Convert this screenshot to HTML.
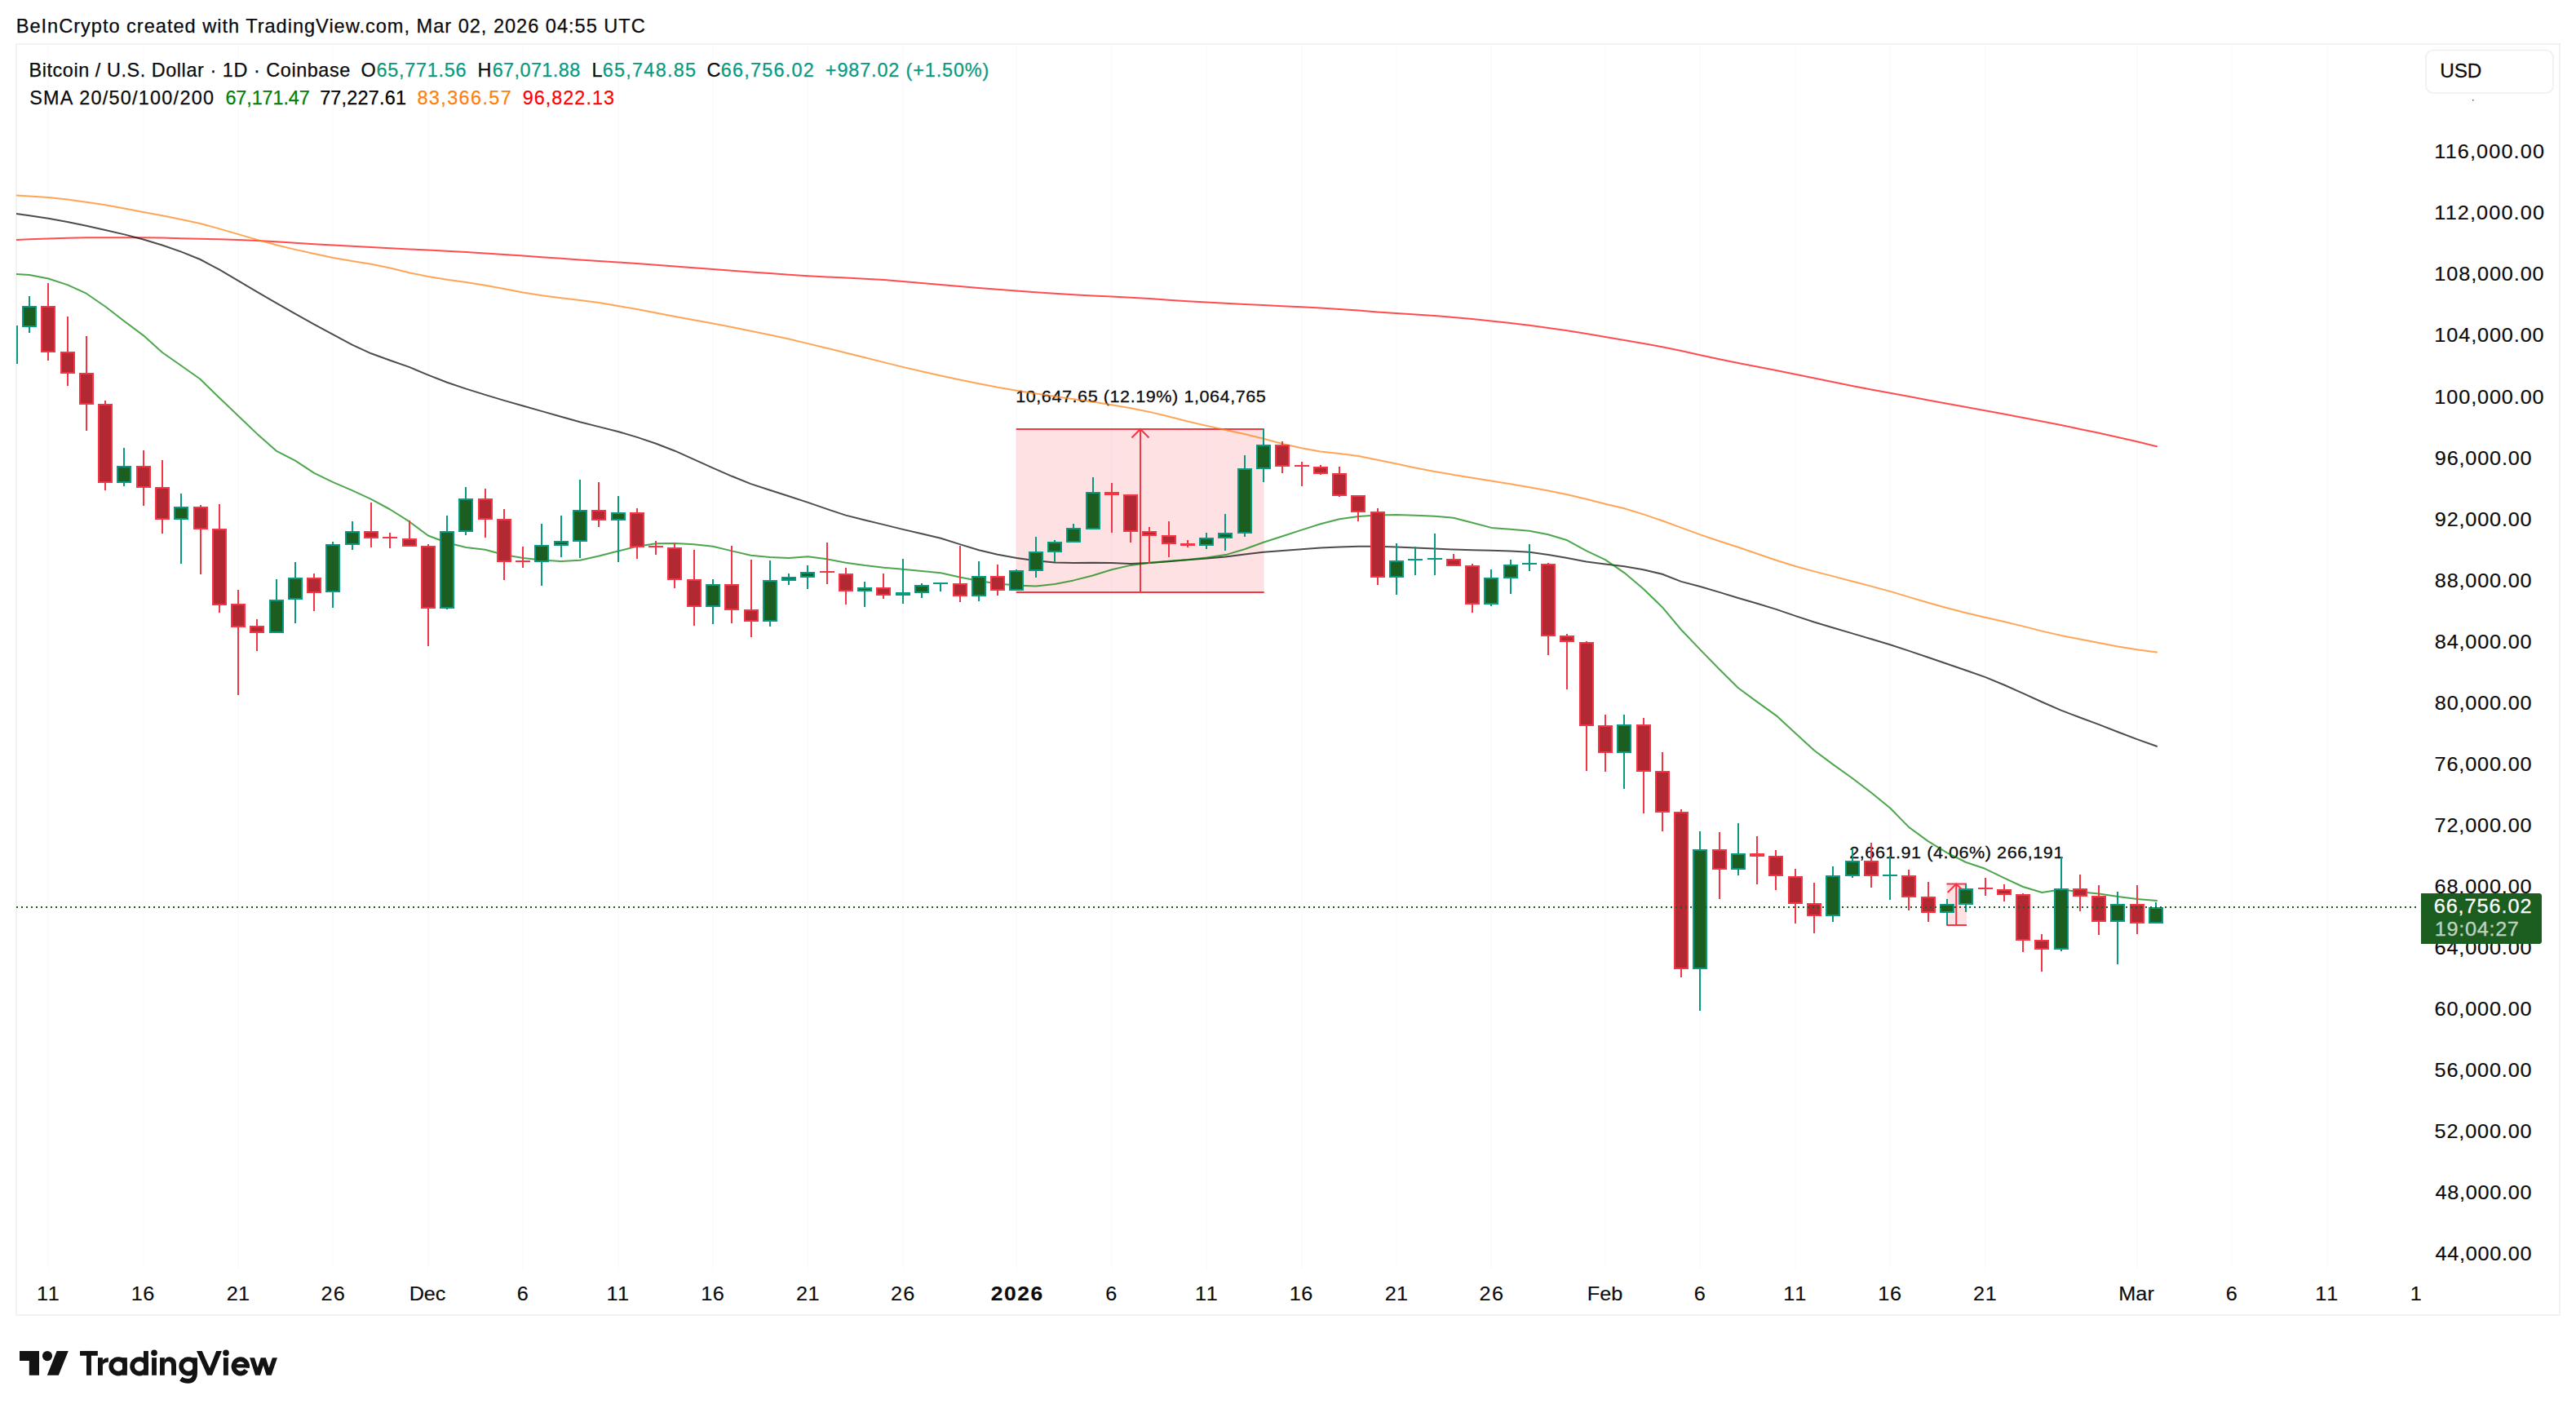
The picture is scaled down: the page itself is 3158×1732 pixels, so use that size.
<!DOCTYPE html>
<html><head><meta charset="utf-8"><title>BTCUSD chart</title>
<style>html,body{margin:0;padding:0;background:#fff}svg{display:block}text{font-family:"Liberation Sans",sans-serif;white-space:pre}</style></head>
<body>
<svg width="3158" height="1732" viewBox="0 0 3158 1732" font-family='"Liberation Sans", sans-serif'>
<rect width="3158" height="1732" fill="#fff"/>
<rect x="20" y="54" width="3118" height="1558" fill="none" stroke="#f2f2f2" stroke-width="2"/>
<g stroke="#fcfcfd" stroke-width="2"><line x1="59" y1="54" x2="59" y2="1556"/><line x1="176" y1="54" x2="176" y2="1556"/><line x1="292" y1="54" x2="292" y2="1556"/><line x1="408" y1="54" x2="408" y2="1556"/><line x1="525" y1="54" x2="525" y2="1556"/><line x1="641" y1="54" x2="641" y2="1556"/><line x1="758" y1="54" x2="758" y2="1556"/><line x1="874" y1="54" x2="874" y2="1556"/><line x1="990" y1="54" x2="990" y2="1556"/><line x1="1107" y1="54" x2="1107" y2="1556"/><line x1="1246" y1="54" x2="1246" y2="1556"/><line x1="1363" y1="54" x2="1363" y2="1556"/><line x1="1479" y1="54" x2="1479" y2="1556"/><line x1="1596" y1="54" x2="1596" y2="1556"/><line x1="1712" y1="54" x2="1712" y2="1556"/><line x1="1828" y1="54" x2="1828" y2="1556"/><line x1="1968" y1="54" x2="1968" y2="1556"/><line x1="2084" y1="54" x2="2084" y2="1556"/><line x1="2201" y1="54" x2="2201" y2="1556"/><line x1="2317" y1="54" x2="2317" y2="1556"/><line x1="2434" y1="54" x2="2434" y2="1556"/><line x1="2620" y1="54" x2="2620" y2="1556"/><line x1="2736" y1="54" x2="2736" y2="1556"/><line x1="2853" y1="54" x2="2853" y2="1556"/></g>
<clipPath id="pane"><rect x="20" y="55" width="2942" height="1501"/></clipPath>
<g clip-path="url(#pane)">
<rect x="1245.7" y="526" width="304" height="200" fill="#f23645" fill-opacity="0.15"/><g stroke="#f23645" stroke-width="2" fill="none"><line x1="1245.7" y1="526" x2="1549.7" y2="526"/><line x1="1245.7" y1="726" x2="1549.7" y2="726"/><line x1="1398" y1="526" x2="1398" y2="726"/><polyline points="1387.5,536.5 1398,526 1408.5,536.5"/></g>
<rect x="2386.4" y="1083.5" width="24.6" height="50.5" fill="#f23645" fill-opacity="0.15"/><g stroke="#f23645" stroke-width="2" fill="none"><line x1="2386.4" y1="1083.5" x2="2411" y2="1083.5"/><line x1="2386.4" y1="1134" x2="2411" y2="1134"/><line x1="2398.2" y1="1083.5" x2="2398.2" y2="1134"/><polyline points="2387.7,1094 2398.2,1083.5 2408.7,1094"/></g>
<text transform="translate(1245.14 493.20) scale(1.08 1)" font-size="20" fill="#0a0a0a" letter-spacing="0.520" stroke="#0a0a0a" stroke-width="0.25">10,647.65 (12.19%) 1,064,765</text>
<text transform="translate(2267.24 1051.50) scale(1.08 1)" font-size="20" fill="#0a0a0a" letter-spacing="0.506" stroke="#0a0a0a" stroke-width="0.25">2,661.91 (4.06%) 266,191</text>
<path d="M20,293.9 L36,293.2 L59.3,292.4 L82.6,291.7 L105.8,291.3 L129.1,291.2 L152.4,291.2 L175.7,291.3 L198.9,291.6 L222.2,292.2 L245.5,292.7 L268.8,293.3 L292.1,294 L315.3,294.9 L338.6,296.2 L361.9,297.7 L385.2,299.2 L408.4,300.5 L431.7,301.8 L455,303 L478.3,304.2 L501.6,305.4 L524.8,306.5 L548.1,307.8 L571.4,309.1 L594.7,310.5 L617.9,312 L641.2,313.6 L664.5,315.2 L687.8,316.8 L711,318.4 L734.3,319.9 L757.6,321.4 L780.9,323 L804.2,324.7 L827.4,326.5 L850.7,328.3 L874,330 L897.3,331.8 L920.5,333.5 L943.8,335.1 L967.1,336.7 L990.4,338.2 L1013.6,339.5 L1036.9,340.6 L1060.2,341.7 L1083.5,343.1 L1106.8,344.9 L1130,347.1 L1153.3,349.1 L1176.6,351 L1199.9,352.9 L1223.1,354.8 L1246.4,356.5 L1269.7,358.2 L1293,359.8 L1316.2,361.2 L1339.5,362.4 L1362.8,363.5 L1386.1,364.7 L1409.4,366.1 L1432.6,367.8 L1455.9,369.3 L1479.2,370.6 L1502.5,371.8 L1525.7,372.9 L1549,374.1 L1572.3,375.2 L1595.6,376.3 L1618.8,377.5 L1642.1,379 L1665.4,380.6 L1688.7,382.4 L1712,384 L1735.2,385.5 L1758.5,387.1 L1781.8,389 L1805.1,391.1 L1828.3,393.4 L1851.6,396 L1874.9,398.8 L1898.2,401.9 L1921.4,405.2 L1944.7,409 L1968,413.1 L1991.3,417 L2014.6,421 L2037.8,425.3 L2061.1,430.1 L2084.4,435.2 L2107.7,440.3 L2130.9,445.1 L2154.2,449.6 L2177.5,454.1 L2200.8,458.7 L2224,463.5 L2247.3,468.3 L2270.6,473 L2293.9,477.5 L2317.2,481.8 L2340.4,486.1 L2363.7,490.4 L2387,494.7 L2410.3,499 L2433.5,503.3 L2456.8,507.6 L2480.1,512 L2503.4,516.4 L2526.6,521.1 L2549.9,525.9 L2573.2,530.8 L2596.5,536 L2619.8,541.3 L2644,547.2" fill="none" stroke="#ff0000" stroke-opacity="0.7" stroke-width="2" stroke-linejoin="round" stroke-linecap="round"/>
<path d="M20,239.6 L36,240.4 L59.3,242 L82.6,244.5 L105.8,247.7 L129.1,251.3 L152.4,255.6 L175.7,260 L198.9,264.3 L222.2,268.9 L245.5,274 L268.8,280.4 L292.1,287.1 L315.3,293.9 L338.6,300.2 L361.9,305.9 L385.2,311.1 L408.4,315.9 L431.7,319.9 L455,323.8 L478.3,328.5 L501.6,334.2 L524.8,339.1 L548.1,342.7 L571.4,345.9 L594.7,349.7 L617.9,354 L641.2,358.4 L664.5,362.2 L687.8,365.2 L711,368 L734.3,371.1 L757.6,374.9 L780.9,379.1 L804.2,383.6 L827.4,387.9 L850.7,392.2 L874,396.6 L897.3,401.1 L920.5,405.7 L943.8,410.5 L967.1,415.6 L990.4,421.1 L1013.6,426.7 L1036.9,432.5 L1060.2,438.3 L1083.5,444.1 L1106.8,449.9 L1130,455.3 L1153.3,460.5 L1176.6,465.4 L1199.9,470.2 L1223.1,474.8 L1246.4,478.8 L1269.7,482.4 L1293,485.9 L1316.2,489.2 L1339.5,492.5 L1362.8,496.2 L1386.1,500.3 L1409.4,504.9 L1432.6,510.5 L1455.9,516.5 L1479.2,521.9 L1502.5,526.9 L1525.7,532.1 L1549,537.8 L1572.3,544 L1595.6,549.3 L1618.8,553.5 L1642.1,556.1 L1665.4,559.1 L1688.7,563.8 L1712,568.6 L1735.2,573.4 L1758.5,577.9 L1781.8,581.9 L1805.1,585.7 L1828.3,589.5 L1851.6,593.3 L1874.9,597.3 L1898.2,601.5 L1921.4,606.2 L1944.7,611.8 L1968,617.7 L1991.3,623.3 L2014.6,630.4 L2037.8,638.3 L2061.1,646.9 L2084.4,655.4 L2107.7,663.2 L2130.9,670.8 L2154.2,678.7 L2177.5,686.7 L2200.8,694 L2224,700.4 L2247.3,706.4 L2270.6,712.5 L2293.9,718.6 L2317.2,724.9 L2340.4,731.9 L2363.7,738.8 L2387,745.2 L2410.3,751.2 L2433.5,756.8 L2456.8,762.1 L2480.1,767.6 L2503.4,773.6 L2526.6,778.9 L2549.9,783.6 L2573.2,788 L2596.5,792.4 L2619.8,796.3 L2644,799.6" fill="none" stroke="#ff7f0e" stroke-opacity="0.7" stroke-width="2" stroke-linejoin="round" stroke-linecap="round"/>
<path d="M20,262.1 L36,264.2 L59.3,267.8 L82.6,271.9 L105.8,276.7 L129.1,282 L152.4,287.4 L175.7,293.5 L198.9,300.5 L222.2,308.6 L245.5,318 L268.8,330.4 L292.1,344.2 L315.3,357.8 L338.6,371.3 L361.9,384.6 L385.2,397.6 L408.4,410.2 L431.7,422.6 L455,433.3 L478.3,441.7 L501.6,449.9 L524.8,459.6 L548.1,468.8 L571.4,476.6 L594.7,483.9 L617.9,490.9 L641.2,497.5 L664.5,504.1 L687.8,510.7 L711,517.2 L734.3,523.1 L757.6,529 L780.9,535.9 L804.2,543.7 L827.4,552.7 L850.7,563.1 L874,573.7 L897.3,583.8 L920.5,593.1 L943.8,600.8 L967.1,608.2 L990.4,615.9 L1013.6,623.9 L1036.9,631.6 L1060.2,637.5 L1083.5,643.1 L1106.8,648.9 L1130,654.3 L1153.3,659.7 L1176.6,667.1 L1199.9,674.2 L1223.1,679.7 L1246.4,684 L1269.7,687.2 L1293,689.4 L1316.2,690.1 L1339.5,689.8 L1362.8,690.1 L1386.1,690.9 L1409.4,690 L1432.6,688.2 L1455.9,686.3 L1479.2,684.5 L1502.5,682.6 L1525.7,679.6 L1549,676.8 L1572.3,674.9 L1595.6,673.2 L1618.8,671.6 L1642.1,670.5 L1665.4,669.8 L1688.7,669.7 L1712,670.5 L1735.2,671.4 L1758.5,672.6 L1781.8,673.6 L1805.1,674.2 L1828.3,674.8 L1851.6,675.6 L1874.9,676.7 L1898.2,679.9 L1921.4,684 L1944.7,688.4 L1968,691.6 L1991.3,694.3 L2014.6,698.2 L2037.8,703.8 L2061.1,712.9 L2084.4,719 L2107.7,725.9 L2130.9,733 L2154.2,739.8 L2177.5,746.9 L2200.8,754.9 L2224,762.5 L2247.3,769.5 L2270.6,776.4 L2293.9,783.3 L2317.2,790.3 L2340.4,797.9 L2363.7,805.8 L2387,813.7 L2410.3,821.7 L2433.5,829.9 L2456.8,839.5 L2480.1,849.8 L2503.4,860.5 L2526.6,870.6 L2549.9,879.5 L2573.2,888.1 L2596.5,897.2 L2619.8,906.1 L2644,914.8" fill="none" stroke="#000000" stroke-opacity="0.7" stroke-width="2" stroke-linejoin="round" stroke-linecap="round"/>
<path d="M20,335.9 L36,337.1 L59.3,341.5 L82.6,349.1 L105.8,359.7 L129.1,375.7 L152.4,393.7 L175.7,411.1 L198.9,432 L222.2,448.3 L245.5,464.8 L268.8,487.5 L292.1,509.7 L315.3,531.9 L338.6,552.6 L361.9,564.6 L385.2,579.9 L408.4,591.1 L431.7,601.2 L455,611.8 L478.3,624.5 L501.6,639.2 L524.8,656.5 L548.1,665.3 L571.4,671 L594.7,673.7 L617.9,680 L641.2,683.9 L664.5,686.4 L687.8,688 L711,686.7 L734.3,681.5 L757.6,675.5 L780.9,669.8 L804.2,666.3 L827.4,666 L850.7,667.3 L874,669.8 L897.3,675.4 L920.5,680.7 L943.8,683.1 L967.1,684.1 L990.4,682.3 L1013.6,685.3 L1036.9,689.8 L1060.2,693.1 L1083.5,695.8 L1106.8,697.8 L1130,699.9 L1153.3,702.3 L1176.6,707.5 L1199.9,712.1 L1223.1,715.4 L1246.4,717.4 L1269.7,718.5 L1293,716 L1316.2,711.4 L1339.5,705.5 L1362.8,698.3 L1386.1,692.9 L1409.4,689.8 L1432.6,687.7 L1455.9,686 L1479.2,683.6 L1502.5,680.1 L1525.7,673.2 L1549,664.8 L1572.3,657.2 L1595.6,649.6 L1618.8,642.2 L1642.1,636.3 L1665.4,633 L1688.7,631.5 L1712,631.1 L1735.2,631.7 L1758.5,632.8 L1781.8,634.7 L1805.1,640.7 L1828.3,646.9 L1851.6,648.7 L1874.9,650.7 L1898.2,655.2 L1921.4,662.3 L1944.7,675.1 L1968,686.1 L1991.3,702.1 L2014.6,721.7 L2037.8,744.2 L2061.1,772 L2084.4,796.4 L2107.7,820.3 L2130.9,843.2 L2154.2,860.4 L2177.5,877.1 L2200.8,898.4 L2224,919.7 L2247.3,937.1 L2270.6,953.7 L2293.9,971.5 L2317.2,990.5 L2340.4,1014.1 L2363.7,1031.1 L2387,1045.3 L2410.3,1057 L2433.5,1064.8 L2456.8,1076.1 L2480.1,1087 L2503.4,1094 L2526.6,1090.2 L2549.9,1093.3 L2573.2,1095.5 L2596.5,1098.9 L2619.8,1102 L2644,1104" fill="none" stroke="#008000" stroke-opacity="0.7" stroke-width="2" stroke-linejoin="round" stroke-linecap="round"/>
<rect x="20" y="399" width="2" height="47" fill="#089981"/><rect x="35" y="363" width="2" height="45" fill="#089981"/><rect x="28" y="376" width="16" height="24" fill="#1b5e20" stroke="#089981" stroke-width="2"/><rect x="58" y="347" width="2" height="95" fill="#f23645"/><rect x="51" y="376" width="16" height="55" fill="#b22833" stroke="#f23645" stroke-width="2"/><rect x="82" y="388" width="2" height="85" fill="#f23645"/><rect x="75" y="432" width="16" height="25" fill="#b22833" stroke="#f23645" stroke-width="2"/><rect x="105" y="412" width="2" height="116" fill="#f23645"/><rect x="98" y="458" width="16" height="37" fill="#b22833" stroke="#f23645" stroke-width="2"/><rect x="128" y="491" width="2" height="110" fill="#f23645"/><rect x="121" y="496" width="16" height="95" fill="#b22833" stroke="#f23645" stroke-width="2"/><rect x="151" y="549" width="2" height="47" fill="#089981"/><rect x="144" y="572" width="16" height="19" fill="#1b5e20" stroke="#089981" stroke-width="2"/><rect x="175" y="552" width="2" height="68" fill="#f23645"/><rect x="168" y="572" width="16" height="25" fill="#b22833" stroke="#f23645" stroke-width="2"/><rect x="198" y="564" width="2" height="90" fill="#f23645"/><rect x="191" y="598" width="16" height="38" fill="#b22833" stroke="#f23645" stroke-width="2"/><rect x="221" y="605" width="2" height="86" fill="#089981"/><rect x="214" y="622" width="16" height="14" fill="#1b5e20" stroke="#089981" stroke-width="2"/><rect x="245" y="619" width="2" height="85" fill="#f23645"/><rect x="238" y="622" width="16" height="26" fill="#b22833" stroke="#f23645" stroke-width="2"/><rect x="268" y="618" width="2" height="133" fill="#f23645"/><rect x="261" y="649" width="16" height="92" fill="#b22833" stroke="#f23645" stroke-width="2"/><rect x="291" y="723" width="2" height="129" fill="#f23645"/><rect x="284" y="741" width="16" height="27" fill="#b22833" stroke="#f23645" stroke-width="2"/><rect x="314" y="759" width="2" height="39" fill="#f23645"/><rect x="307" y="768" width="16" height="7" fill="#b22833" stroke="#f23645" stroke-width="2"/><rect x="338" y="710" width="2" height="66" fill="#089981"/><rect x="331" y="736" width="16" height="39" fill="#1b5e20" stroke="#089981" stroke-width="2"/><rect x="361" y="689" width="2" height="75" fill="#089981"/><rect x="354" y="709" width="16" height="25" fill="#1b5e20" stroke="#089981" stroke-width="2"/><rect x="384" y="703" width="2" height="46" fill="#f23645"/><rect x="377" y="709" width="16" height="17" fill="#b22833" stroke="#f23645" stroke-width="2"/><rect x="407" y="664" width="2" height="81" fill="#089981"/><rect x="400" y="668" width="16" height="57" fill="#1b5e20" stroke="#089981" stroke-width="2"/><rect x="431" y="639" width="2" height="35" fill="#089981"/><rect x="424" y="652" width="16" height="15" fill="#1b5e20" stroke="#089981" stroke-width="2"/><rect x="454" y="616" width="2" height="55" fill="#f23645"/><rect x="447" y="652" width="16" height="7" fill="#b22833" stroke="#f23645" stroke-width="2"/><rect x="477" y="653" width="2" height="19" fill="#f23645"/><rect x="469" y="658" width="18" height="2" fill="#f23645"/><rect x="501" y="638" width="2" height="32" fill="#f23645"/><rect x="494" y="661" width="16" height="8" fill="#b22833" stroke="#f23645" stroke-width="2"/><rect x="524" y="667" width="2" height="125" fill="#f23645"/><rect x="517" y="670" width="16" height="75" fill="#b22833" stroke="#f23645" stroke-width="2"/><rect x="547" y="632" width="2" height="115" fill="#089981"/><rect x="540" y="652" width="16" height="93" fill="#1b5e20" stroke="#089981" stroke-width="2"/><rect x="570" y="597" width="2" height="59" fill="#089981"/><rect x="563" y="612" width="16" height="39" fill="#1b5e20" stroke="#089981" stroke-width="2"/><rect x="594" y="599" width="2" height="60" fill="#f23645"/><rect x="587" y="612" width="16" height="24" fill="#b22833" stroke="#f23645" stroke-width="2"/><rect x="617" y="624" width="2" height="87" fill="#f23645"/><rect x="610" y="637" width="16" height="51" fill="#b22833" stroke="#f23645" stroke-width="2"/><rect x="640" y="670" width="2" height="26" fill="#f23645"/><rect x="632" y="687" width="18" height="2" fill="#f23645"/><rect x="663" y="642" width="2" height="76" fill="#089981"/><rect x="656" y="669" width="16" height="19" fill="#1b5e20" stroke="#089981" stroke-width="2"/><rect x="687" y="632" width="2" height="51" fill="#089981"/><rect x="680" y="664" width="16" height="4" fill="#1b5e20" stroke="#089981" stroke-width="2"/><rect x="710" y="588" width="2" height="96" fill="#089981"/><rect x="703" y="626" width="16" height="37" fill="#1b5e20" stroke="#089981" stroke-width="2"/><rect x="733" y="591" width="2" height="55" fill="#f23645"/><rect x="726" y="626" width="16" height="11" fill="#b22833" stroke="#f23645" stroke-width="2"/><rect x="757" y="608" width="2" height="81" fill="#089981"/><rect x="750" y="629" width="16" height="8" fill="#1b5e20" stroke="#089981" stroke-width="2"/><rect x="780" y="623" width="2" height="62" fill="#f23645"/><rect x="773" y="629" width="16" height="41" fill="#b22833" stroke="#f23645" stroke-width="2"/><rect x="803" y="663" width="2" height="17" fill="#f23645"/><rect x="795" y="669" width="18" height="2" fill="#f23645"/><rect x="826" y="666" width="2" height="55" fill="#f23645"/><rect x="819" y="672" width="16" height="38" fill="#b22833" stroke="#f23645" stroke-width="2"/><rect x="850" y="674" width="2" height="93" fill="#f23645"/><rect x="843" y="711" width="16" height="32" fill="#b22833" stroke="#f23645" stroke-width="2"/><rect x="873" y="710" width="2" height="55" fill="#089981"/><rect x="866" y="717" width="16" height="26" fill="#1b5e20" stroke="#089981" stroke-width="2"/><rect x="896" y="669" width="2" height="95" fill="#f23645"/><rect x="889" y="717" width="16" height="30" fill="#b22833" stroke="#f23645" stroke-width="2"/><rect x="920" y="686" width="2" height="95" fill="#f23645"/><rect x="913" y="748" width="16" height="13" fill="#b22833" stroke="#f23645" stroke-width="2"/><rect x="943" y="687" width="2" height="81" fill="#089981"/><rect x="936" y="712" width="16" height="49" fill="#1b5e20" stroke="#089981" stroke-width="2"/><rect x="966" y="703" width="2" height="14" fill="#089981"/><rect x="959" y="708" width="16" height="3" fill="#1b5e20" stroke="#089981" stroke-width="2"/><rect x="989" y="693" width="2" height="29" fill="#089981"/><rect x="982" y="702" width="16" height="5" fill="#1b5e20" stroke="#089981" stroke-width="2"/><rect x="1013" y="665" width="2" height="51" fill="#f23645"/><rect x="1005" y="700" width="18" height="2" fill="#f23645"/><rect x="1036" y="696" width="2" height="45" fill="#f23645"/><rect x="1029" y="704" width="16" height="20" fill="#b22833" stroke="#f23645" stroke-width="2"/><rect x="1059" y="713" width="2" height="31" fill="#089981"/><rect x="1052" y="721" width="16" height="3" fill="#1b5e20" stroke="#089981" stroke-width="2"/><rect x="1082" y="703" width="2" height="31" fill="#f23645"/><rect x="1075" y="721" width="16" height="8" fill="#b22833" stroke="#f23645" stroke-width="2"/><rect x="1106" y="685" width="2" height="55" fill="#089981"/><rect x="1098" y="726" width="18" height="4" fill="#089981"/><rect x="1129" y="715" width="2" height="18" fill="#089981"/><rect x="1122" y="718" width="16" height="8" fill="#1b5e20" stroke="#089981" stroke-width="2"/><rect x="1152" y="714" width="2" height="11" fill="#089981"/><rect x="1144" y="714" width="18" height="2" fill="#089981"/><rect x="1176" y="669" width="2" height="69" fill="#f23645"/><rect x="1169" y="716" width="16" height="14" fill="#b22833" stroke="#f23645" stroke-width="2"/><rect x="1199" y="688" width="2" height="49" fill="#089981"/><rect x="1192" y="707" width="16" height="23" fill="#1b5e20" stroke="#089981" stroke-width="2"/><rect x="1222" y="692" width="2" height="38" fill="#f23645"/><rect x="1215" y="707" width="16" height="16" fill="#b22833" stroke="#f23645" stroke-width="2"/><rect x="1245" y="698" width="2" height="26" fill="#089981"/><rect x="1238" y="700" width="16" height="23" fill="#1b5e20" stroke="#089981" stroke-width="2"/><rect x="1269" y="658" width="2" height="50" fill="#089981"/><rect x="1262" y="677" width="16" height="22" fill="#1b5e20" stroke="#089981" stroke-width="2"/><rect x="1292" y="662" width="2" height="27" fill="#089981"/><rect x="1285" y="665" width="16" height="11" fill="#1b5e20" stroke="#089981" stroke-width="2"/><rect x="1315" y="642" width="2" height="23" fill="#089981"/><rect x="1308" y="648" width="16" height="16" fill="#1b5e20" stroke="#089981" stroke-width="2"/><rect x="1339" y="585" width="2" height="64" fill="#089981"/><rect x="1332" y="604" width="16" height="44" fill="#1b5e20" stroke="#089981" stroke-width="2"/><rect x="1362" y="592" width="2" height="61" fill="#f23645"/><rect x="1354" y="603" width="18" height="4" fill="#f23645"/><rect x="1385" y="606" width="2" height="59" fill="#f23645"/><rect x="1378" y="607" width="16" height="44" fill="#b22833" stroke="#f23645" stroke-width="2"/><rect x="1408" y="646" width="2" height="45" fill="#f23645"/><rect x="1401" y="652" width="16" height="4" fill="#b22833" stroke="#f23645" stroke-width="2"/><rect x="1432" y="639" width="2" height="44" fill="#f23645"/><rect x="1425" y="657" width="16" height="9" fill="#b22833" stroke="#f23645" stroke-width="2"/><rect x="1455" y="662" width="2" height="9" fill="#f23645"/><rect x="1447" y="666" width="18" height="3" fill="#f23645"/><rect x="1478" y="653" width="2" height="20" fill="#089981"/><rect x="1471" y="660" width="16" height="8" fill="#1b5e20" stroke="#089981" stroke-width="2"/><rect x="1501" y="630" width="2" height="45" fill="#089981"/><rect x="1494" y="654" width="16" height="5" fill="#1b5e20" stroke="#089981" stroke-width="2"/><rect x="1525" y="558" width="2" height="100" fill="#089981"/><rect x="1518" y="575" width="16" height="78" fill="#1b5e20" stroke="#089981" stroke-width="2"/><rect x="1548" y="526" width="2" height="65" fill="#089981"/><rect x="1541" y="546" width="16" height="28" fill="#1b5e20" stroke="#089981" stroke-width="2"/><rect x="1571" y="541" width="2" height="39" fill="#f23645"/><rect x="1564" y="546" width="16" height="25" fill="#b22833" stroke="#f23645" stroke-width="2"/><rect x="1595" y="566" width="2" height="30" fill="#f23645"/><rect x="1587" y="570" width="18" height="2" fill="#f23645"/><rect x="1618" y="570" width="2" height="12" fill="#f23645"/><rect x="1611" y="573" width="16" height="7" fill="#b22833" stroke="#f23645" stroke-width="2"/><rect x="1641" y="572" width="2" height="37" fill="#f23645"/><rect x="1634" y="581" width="16" height="26" fill="#b22833" stroke="#f23645" stroke-width="2"/><rect x="1664" y="607" width="2" height="32" fill="#f23645"/><rect x="1657" y="608" width="16" height="19" fill="#b22833" stroke="#f23645" stroke-width="2"/><rect x="1688" y="623" width="2" height="94" fill="#f23645"/><rect x="1681" y="628" width="16" height="79" fill="#b22833" stroke="#f23645" stroke-width="2"/><rect x="1711" y="666" width="2" height="63" fill="#089981"/><rect x="1704" y="688" width="16" height="19" fill="#1b5e20" stroke="#089981" stroke-width="2"/><rect x="1734" y="670" width="2" height="35" fill="#089981"/><rect x="1726" y="685" width="18" height="2" fill="#089981"/><rect x="1758" y="654" width="2" height="51" fill="#089981"/><rect x="1750" y="684" width="18" height="2" fill="#089981"/><rect x="1781" y="679" width="2" height="15" fill="#f23645"/><rect x="1774" y="686" width="16" height="7" fill="#b22833" stroke="#f23645" stroke-width="2"/><rect x="1804" y="691" width="2" height="60" fill="#f23645"/><rect x="1797" y="694" width="16" height="46" fill="#b22833" stroke="#f23645" stroke-width="2"/><rect x="1827" y="698" width="2" height="45" fill="#089981"/><rect x="1820" y="709" width="16" height="31" fill="#1b5e20" stroke="#089981" stroke-width="2"/><rect x="1851" y="686" width="2" height="42" fill="#089981"/><rect x="1844" y="693" width="16" height="15" fill="#1b5e20" stroke="#089981" stroke-width="2"/><rect x="1874" y="667" width="2" height="33" fill="#089981"/><rect x="1866" y="690" width="18" height="2" fill="#089981"/><rect x="1897" y="690" width="2" height="113" fill="#f23645"/><rect x="1890" y="692" width="16" height="87" fill="#b22833" stroke="#f23645" stroke-width="2"/><rect x="1920" y="777" width="2" height="68" fill="#f23645"/><rect x="1913" y="780" width="16" height="6" fill="#b22833" stroke="#f23645" stroke-width="2"/><rect x="1944" y="786" width="2" height="159" fill="#f23645"/><rect x="1937" y="788" width="16" height="101" fill="#b22833" stroke="#f23645" stroke-width="2"/><rect x="1967" y="876" width="2" height="70" fill="#f23645"/><rect x="1960" y="890" width="16" height="32" fill="#b22833" stroke="#f23645" stroke-width="2"/><rect x="1990" y="876" width="2" height="91" fill="#089981"/><rect x="1983" y="889" width="16" height="33" fill="#1b5e20" stroke="#089981" stroke-width="2"/><rect x="2014" y="880" width="2" height="117" fill="#f23645"/><rect x="2007" y="889" width="16" height="56" fill="#b22833" stroke="#f23645" stroke-width="2"/><rect x="2037" y="922" width="2" height="97" fill="#f23645"/><rect x="2030" y="946" width="16" height="49" fill="#b22833" stroke="#f23645" stroke-width="2"/><rect x="2060" y="992" width="2" height="206" fill="#f23645"/><rect x="2053" y="996" width="16" height="191" fill="#b22833" stroke="#f23645" stroke-width="2"/><rect x="2083" y="1019" width="2" height="220" fill="#089981"/><rect x="2076" y="1042" width="16" height="145" fill="#1b5e20" stroke="#089981" stroke-width="2"/><rect x="2107" y="1020" width="2" height="82" fill="#f23645"/><rect x="2100" y="1042" width="16" height="23" fill="#b22833" stroke="#f23645" stroke-width="2"/><rect x="2130" y="1009" width="2" height="64" fill="#089981"/><rect x="2123" y="1047" width="16" height="18" fill="#1b5e20" stroke="#089981" stroke-width="2"/><rect x="2153" y="1025" width="2" height="59" fill="#f23645"/><rect x="2145" y="1046" width="18" height="4" fill="#f23645"/><rect x="2176" y="1042" width="2" height="49" fill="#f23645"/><rect x="2169" y="1050" width="16" height="23" fill="#b22833" stroke="#f23645" stroke-width="2"/><rect x="2200" y="1065" width="2" height="67" fill="#f23645"/><rect x="2193" y="1075" width="16" height="32" fill="#b22833" stroke="#f23645" stroke-width="2"/><rect x="2223" y="1082" width="2" height="62" fill="#f23645"/><rect x="2216" y="1108" width="16" height="14" fill="#b22833" stroke="#f23645" stroke-width="2"/><rect x="2246" y="1062" width="2" height="68" fill="#089981"/><rect x="2239" y="1074" width="16" height="48" fill="#1b5e20" stroke="#089981" stroke-width="2"/><rect x="2270" y="1040" width="2" height="36" fill="#089981"/><rect x="2263" y="1056" width="16" height="17" fill="#1b5e20" stroke="#089981" stroke-width="2"/><rect x="2293" y="1033" width="2" height="55" fill="#f23645"/><rect x="2286" y="1056" width="16" height="17" fill="#b22833" stroke="#f23645" stroke-width="2"/><rect x="2316" y="1049" width="2" height="54" fill="#089981"/><rect x="2308" y="1072" width="18" height="2" fill="#089981"/><rect x="2339" y="1066" width="2" height="50" fill="#f23645"/><rect x="2332" y="1074" width="16" height="25" fill="#b22833" stroke="#f23645" stroke-width="2"/><rect x="2363" y="1081" width="2" height="49" fill="#f23645"/><rect x="2356" y="1100" width="16" height="18" fill="#b22833" stroke="#f23645" stroke-width="2"/><rect x="2386" y="1102" width="2" height="32" fill="#089981"/><rect x="2379" y="1109" width="16" height="9" fill="#1b5e20" stroke="#089981" stroke-width="2"/><rect x="2409" y="1083" width="2" height="35" fill="#089981"/><rect x="2402" y="1090" width="16" height="18" fill="#1b5e20" stroke="#089981" stroke-width="2"/><rect x="2433" y="1076" width="2" height="22" fill="#f23645"/><rect x="2425" y="1088" width="18" height="2" fill="#f23645"/><rect x="2456" y="1084" width="2" height="21" fill="#f23645"/><rect x="2449" y="1091" width="16" height="5" fill="#b22833" stroke="#f23645" stroke-width="2"/><rect x="2479" y="1095" width="2" height="72" fill="#f23645"/><rect x="2472" y="1097" width="16" height="55" fill="#b22833" stroke="#f23645" stroke-width="2"/><rect x="2502" y="1145" width="2" height="46" fill="#f23645"/><rect x="2495" y="1153" width="16" height="10" fill="#b22833" stroke="#f23645" stroke-width="2"/><rect x="2526" y="1051" width="2" height="115" fill="#089981"/><rect x="2519" y="1090" width="16" height="73" fill="#1b5e20" stroke="#089981" stroke-width="2"/><rect x="2549" y="1072" width="2" height="45" fill="#f23645"/><rect x="2542" y="1090" width="16" height="8" fill="#b22833" stroke="#f23645" stroke-width="2"/><rect x="2572" y="1085" width="2" height="61" fill="#f23645"/><rect x="2565" y="1099" width="16" height="30" fill="#b22833" stroke="#f23645" stroke-width="2"/><rect x="2595" y="1093" width="2" height="89" fill="#089981"/><rect x="2588" y="1109" width="16" height="20" fill="#1b5e20" stroke="#089981" stroke-width="2"/><rect x="2619" y="1085" width="2" height="60" fill="#f23645"/><rect x="2612" y="1109" width="16" height="22" fill="#b22833" stroke="#f23645" stroke-width="2"/><rect x="2642" y="1106" width="2" height="26" fill="#089981"/><rect x="2635" y="1113" width="16" height="18" fill="#1b5e20" stroke="#089981" stroke-width="2"/>
<line x1="20" y1="1112" x2="2962" y2="1112" stroke="#1b5e20" stroke-width="2" stroke-dasharray="2 4"/>
</g>
<rect x="2974" y="61.5" width="156" height="52.5" rx="9" fill="#fff" stroke="#eeeff1" stroke-width="1.6"/>
<rect x="3031" y="122" width="1.5" height="1.5" fill="#555"/>
<path d="M2968,1095 H3112 a4,4 0 0 1 4,4 V1153 a4,4 0 0 1 -4,4 H2968 Z" fill="#1b5e20"/>
<text x="19.76" y="39.70" font-size="23.6" fill="#0a0a0a" letter-spacing="0.978" stroke="#0a0a0a" stroke-width="0.25">BeInCrypto created with TradingView.com, Mar 02, 2026 04:55 UTC</text>
<text x="35.56" y="94.10" font-size="23.4" fill="#0a0a0a" letter-spacing="0.571" stroke="#0a0a0a" stroke-width="0.25">Bitcoin / U.S. Dollar · 1D · Coinbase</text>
<text x="442.61" y="94.10" font-size="23.4" fill="#0a0a0a" stroke="#0a0a0a" stroke-width="0.25">O</text>
<text x="461.51" y="94.10" font-size="23.4" fill="#089981" letter-spacing="0.750" stroke="#089981" stroke-width="0.25">65,771.56</text>
<text x="585.49" y="94.10" font-size="23.4" fill="#0a0a0a" stroke="#0a0a0a" stroke-width="0.25">H</text>
<text x="603.63" y="94.10" font-size="23.4" fill="#089981" letter-spacing="0.434" stroke="#089981" stroke-width="0.25">67,071.88</text>
<text x="725.49" y="94.10" font-size="23.4" fill="#0a0a0a" stroke="#0a0a0a" stroke-width="0.25">L</text>
<text x="738.79" y="94.10" font-size="23.4" fill="#089981" letter-spacing="1.265" stroke="#089981" stroke-width="0.25">65,748.85</text>
<text x="866.41" y="94.10" font-size="23.4" fill="#0a0a0a" stroke="#0a0a0a" stroke-width="0.25">C</text>
<text x="883.79" y="94.10" font-size="23.4" fill="#089981" letter-spacing="1.250" stroke="#089981" stroke-width="0.25">66,756.02</text>
<text x="1011.86" y="94.10" font-size="23.4" fill="#089981" letter-spacing="0.876" stroke="#089981" stroke-width="0.25">+987.02 (+1.50%)</text>
<text x="36.16" y="128.10" font-size="23.4" fill="#0a0a0a" letter-spacing="1.270" stroke="#0a0a0a" stroke-width="0.25">SMA 20/50/100/200</text>
<text x="276.41" y="128.10" font-size="23.4" fill="#008000" letter-spacing="-0.090" stroke="#008000" stroke-width="0.25">67,171.47</text>
<text x="392.14" y="128.10" font-size="23.4" fill="#000000" letter-spacing="0.235" stroke="#000000" stroke-width="0.25">77,227.61</text>
<text x="511.38" y="128.10" font-size="23.4" fill="#ff7f0e" letter-spacing="1.415" stroke="#ff7f0e" stroke-width="0.25">83,366.57</text>
<text x="640.65" y="128.10" font-size="23.4" fill="#ff0000" letter-spacing="1.034" stroke="#ff0000" stroke-width="0.25">96,822.13</text>
<text transform="translate(2991.17 95.40) scale(1.04 1)" font-size="23.4" fill="#0a0a0a" letter-spacing="-0.047" stroke="#0a0a0a" stroke-width="0.25">USD</text>
<text transform="translate(2984.36 194.30) scale(1.08 1)" font-size="23.4" fill="#0a0a0a" letter-spacing="1.033" stroke="#0a0a0a" stroke-width="0.15">116,000.00</text>
<text transform="translate(2984.36 269.36) scale(1.08 1)" font-size="23.4" fill="#0a0a0a" letter-spacing="1.033" stroke="#0a0a0a" stroke-width="0.15">112,000.00</text>
<text transform="translate(2984.36 344.42) scale(1.08 1)" font-size="23.4" fill="#0a0a0a" letter-spacing="0.810" stroke="#0a0a0a" stroke-width="0.15">108,000.00</text>
<text transform="translate(2984.36 419.48) scale(1.08 1)" font-size="23.4" fill="#0a0a0a" letter-spacing="0.810" stroke="#0a0a0a" stroke-width="0.15">104,000.00</text>
<text transform="translate(2984.36 494.54) scale(1.08 1)" font-size="23.4" fill="#0a0a0a" letter-spacing="0.810" stroke="#0a0a0a" stroke-width="0.15">100,000.00</text>
<text transform="translate(2984.84 569.60) scale(1.08 1)" font-size="23.4" fill="#0a0a0a" letter-spacing="0.743" stroke="#0a0a0a" stroke-width="0.15">96,000.00</text>
<text transform="translate(2984.84 644.66) scale(1.08 1)" font-size="23.4" fill="#0a0a0a" letter-spacing="0.743" stroke="#0a0a0a" stroke-width="0.15">92,000.00</text>
<text transform="translate(2984.77 719.72) scale(1.08 1)" font-size="23.4" fill="#0a0a0a" letter-spacing="0.750" stroke="#0a0a0a" stroke-width="0.15">88,000.00</text>
<text transform="translate(2984.77 794.78) scale(1.08 1)" font-size="23.4" fill="#0a0a0a" letter-spacing="0.750" stroke="#0a0a0a" stroke-width="0.15">84,000.00</text>
<text transform="translate(2984.77 869.84) scale(1.08 1)" font-size="23.4" fill="#0a0a0a" letter-spacing="0.750" stroke="#0a0a0a" stroke-width="0.15">80,000.00</text>
<text transform="translate(2984.61 944.90) scale(1.08 1)" font-size="23.4" fill="#0a0a0a" letter-spacing="0.769" stroke="#0a0a0a" stroke-width="0.15">76,000.00</text>
<text transform="translate(2984.61 1019.96) scale(1.08 1)" font-size="23.4" fill="#0a0a0a" letter-spacing="0.769" stroke="#0a0a0a" stroke-width="0.15">72,000.00</text>
<text transform="translate(2984.61 1095.02) scale(1.08 1)" font-size="23.4" fill="#0a0a0a" letter-spacing="0.769" stroke="#0a0a0a" stroke-width="0.15">68,000.00</text>
<text transform="translate(2984.61 1170.08) scale(1.08 1)" font-size="23.4" fill="#0a0a0a" letter-spacing="0.769" stroke="#0a0a0a" stroke-width="0.15">64,000.00</text>
<text transform="translate(2984.61 1245.14) scale(1.08 1)" font-size="23.4" fill="#0a0a0a" letter-spacing="0.769" stroke="#0a0a0a" stroke-width="0.15">60,000.00</text>
<text transform="translate(2984.55 1320.20) scale(1.08 1)" font-size="23.4" fill="#0a0a0a" letter-spacing="0.777" stroke="#0a0a0a" stroke-width="0.15">56,000.00</text>
<text transform="translate(2984.55 1395.26) scale(1.08 1)" font-size="23.4" fill="#0a0a0a" letter-spacing="0.777" stroke="#0a0a0a" stroke-width="0.15">52,000.00</text>
<text transform="translate(2985.42 1470.32) scale(1.08 1)" font-size="23.4" fill="#0a0a0a" letter-spacing="0.676" stroke="#0a0a0a" stroke-width="0.15">48,000.00</text>
<text transform="translate(2985.42 1545.38) scale(1.08 1)" font-size="23.4" fill="#0a0a0a" letter-spacing="0.676" stroke="#0a0a0a" stroke-width="0.15">44,000.00</text>
<text transform="translate(44.97 1594.00) scale(1.08 1)" font-size="23.4" fill="#0a0a0a" letter-spacing="1.580" stroke="#0a0a0a" stroke-width="0.15">11</text>
<text transform="translate(160.85 1594.00) scale(1.08 1)" font-size="23.4" fill="#0a0a0a" letter-spacing="0.338" stroke="#0a0a0a" stroke-width="0.15">16</text>
<text transform="translate(277.82 1594.00) scale(1.08 1)" font-size="23.4" fill="#0a0a0a" letter-spacing="0.236" stroke="#0a0a0a" stroke-width="0.15">21</text>
<text transform="translate(393.58 1594.00) scale(1.08 1)" font-size="23.4" fill="#0a0a0a" letter-spacing="1.109" stroke="#0a0a0a" stroke-width="0.15">26</text>
<text transform="translate(501.72 1594.00) scale(1.08 1)" font-size="23.4" fill="#0a0a0a" letter-spacing="-0.111" stroke="#0a0a0a" stroke-width="0.15">Dec</text>
<text transform="translate(633.76 1594.00) scale(1.08 1)" font-size="23.4" fill="#0a0a0a" stroke="#0a0a0a" stroke-width="0.15">6</text>
<text transform="translate(743.41 1594.00) scale(1.08 1)" font-size="23.4" fill="#0a0a0a" letter-spacing="1.336" stroke="#0a0a0a" stroke-width="0.15">11</text>
<text transform="translate(859.14 1594.00) scale(1.08 1)" font-size="23.4" fill="#0a0a0a" letter-spacing="0.458" stroke="#0a0a0a" stroke-width="0.15">16</text>
<text transform="translate(976.02 1594.00) scale(1.08 1)" font-size="23.4" fill="#0a0a0a" letter-spacing="0.359" stroke="#0a0a0a" stroke-width="0.15">21</text>
<text transform="translate(1091.98 1594.00) scale(1.08 1)" font-size="23.4" fill="#0a0a0a" letter-spacing="1.153" stroke="#0a0a0a" stroke-width="0.15">26</text>
<text transform="translate(1214.68 1594.00) scale(1.13 1)" font-size="23.4" fill="#0a0a0a" letter-spacing="1.375" font-weight="bold" stroke="#0a0a0a" stroke-width="0.15">2026</text>
<text transform="translate(1355.22 1594.00) scale(1.08 1)" font-size="23.4" fill="#0a0a0a" stroke="#0a0a0a" stroke-width="0.15">6</text>
<text transform="translate(1464.90 1594.00) scale(1.08 1)" font-size="23.4" fill="#0a0a0a" letter-spacing="1.667" stroke="#0a0a0a" stroke-width="0.15">11</text>
<text transform="translate(1580.64 1594.00) scale(1.08 1)" font-size="23.4" fill="#0a0a0a" letter-spacing="0.610" stroke="#0a0a0a" stroke-width="0.15">16</text>
<text transform="translate(1697.83 1594.00) scale(1.08 1)" font-size="23.4" fill="#0a0a0a" letter-spacing="0.087" stroke="#0a0a0a" stroke-width="0.15">21</text>
<text transform="translate(1813.51 1594.00) scale(1.08 1)" font-size="23.4" fill="#0a0a0a" letter-spacing="1.374" stroke="#0a0a0a" stroke-width="0.15">26</text>
<text transform="translate(1945.82 1594.00) scale(1.08 1)" font-size="23.4" fill="#0a0a0a" letter-spacing="-0.063" stroke="#0a0a0a" stroke-width="0.15">Feb</text>
<text transform="translate(2076.85 1594.00) scale(1.08 1)" font-size="23.4" fill="#0a0a0a" stroke="#0a0a0a" stroke-width="0.15">6</text>
<text transform="translate(2186.24 1594.00) scale(1.08 1)" font-size="23.4" fill="#0a0a0a" letter-spacing="1.634" stroke="#0a0a0a" stroke-width="0.15">11</text>
<text transform="translate(2302.22 1594.00) scale(1.08 1)" font-size="23.4" fill="#0a0a0a" letter-spacing="0.635" stroke="#0a0a0a" stroke-width="0.15">16</text>
<text transform="translate(2419.11 1594.00) scale(1.08 1)" font-size="23.4" fill="#0a0a0a" letter-spacing="0.570" stroke="#0a0a0a" stroke-width="0.15">21</text>
<text transform="translate(2597.18 1594.00) scale(1.08 1)" font-size="23.4" fill="#0a0a0a" letter-spacing="0.073" stroke="#0a0a0a" stroke-width="0.15">Mar</text>
<text transform="translate(2728.78 1594.00) scale(1.08 1)" font-size="23.4" fill="#0a0a0a" stroke="#0a0a0a" stroke-width="0.15">6</text>
<text transform="translate(2838.32 1594.00) scale(1.08 1)" font-size="23.4" fill="#0a0a0a" letter-spacing="1.565" stroke="#0a0a0a" stroke-width="0.15">11</text>
<text transform="translate(2954.77 1594.00) scale(1.08 1)" font-size="23.4" fill="#0a0a0a" stroke="#0a0a0a" stroke-width="0.15">1</text>
<path d="M2968,1095 H3112 a4,4 0 0 1 4,4 V1153 a4,4 0 0 1 -4,4 H2968 Z" fill="#1b5e20"/>
<text transform="translate(2983.65 1119.10) scale(1.08 1)" font-size="23.4" fill="#ffffff" letter-spacing="0.862" stroke="#ffffff" stroke-width="0.25">66,756.02</text>
<text transform="translate(2984.82 1146.50) scale(1.08 1)" font-size="23.4" fill="#ffffff" letter-spacing="0.629" opacity="0.72" stroke="#ffffff" stroke-width="0.25">19:04:27</text>
<g fill="#131313"><path d="M24,1656 H48 V1685.8 H35.8 V1668.1 H24 Z"/><circle cx="58" cy="1662.1" r="6.1"/><path d="M69.6,1656 H83.8 L71.8,1685.8 H57.8 Z"/></g>
<g fill="#131313" stroke="none"><rect x="98.04" y="1655.97" width="21.8" height="5.76"/><rect x="106" y="1655.97" width="5.9" height="29.78"/><rect x="120" y="1664.15" width="5.9" height="21.60"/><path d="M125.9,1674.6 C125.9,1671.4 128.4,1669.7 132.86,1669.7 L132.86,1664.15 C129.4,1664.15 127.2,1665.3 125.9,1667.5 Z"/><rect x="150" y="1664.15" width="5.8" height="21.60"/><rect x="176" y="1655.97" width="5.9" height="29.78"/><rect x="186.1" y="1664.15" width="5.8" height="21.60"/><circle cx="189.03" cy="1658.35" r="3.8"/><rect x="196.05" y="1664.15" width="5.8" height="21.60"/><path d="M201.85,1667.0 C203.0,1664.6 205.0,1663.14 207.7,1663.14 C212.7,1663.14 216.0,1666.6 216.0,1672.4 L216.0,1685.75 L210.1,1685.75 L210.1,1673.5 C210.1,1670.4 208.6,1668.7 206.1,1668.7 C203.6,1668.7 201.85,1670.7 201.85,1674.5 Z"/><path d="M241,1655.97 L247.7,1655.97 L257,1677.1 L265.2,1655.97 L271.9,1655.97 L259.9,1685.75 L254.1,1685.75 Z"/><rect x="273.95" y="1664.15" width="5.9" height="21.60"/><circle cx="276.98" cy="1658.35" r="3.8"/><rect x="287" y="1672.2" width="18.6" height="4.3"/></g><g fill="none" stroke="#131313" stroke-width="5.7"><clipPath id="ca"><rect x="130" y="1650" width="25.8" height="50"/></clipPath><circle cx="145.07" cy="1674.85" r="8.85" clip-path="url(#ca)"/><clipPath id="cd"><rect x="156" y="1650" width="25.9" height="50"/></clipPath><circle cx="170.96" cy="1674.85" r="8.85" clip-path="url(#cd)"/><clipPath id="cg"><rect x="216" y="1650" width="25.86" height="50"/></clipPath><circle cx="231.0" cy="1674.85" r="8.85" clip-path="url(#cg)"/><path d="M239.03,1664.15 L239.03,1683.6 C239.03,1689.6 235.5,1692.9 230.65,1692.9 C227.3,1692.9 224.3,1691.9 221.7,1690.1"/><path d="M301.84,1679.49 A8.3,8.75 0 1 1 302.95,1676.5"/></g><clipPath id="wclip"><rect x="300" y="1664.15" width="45" height="21.60"/></clipPath><g clip-path="url(#wclip)"><polyline points="308.09,1661.15 315.94,1685.75 322.76,1664.15 329.67,1685.75 337.95,1661.15" fill="none" stroke="#131313" stroke-width="5.7" stroke-linejoin="miter" stroke-miterlimit="10"/></g>
</svg>
</body></html>
